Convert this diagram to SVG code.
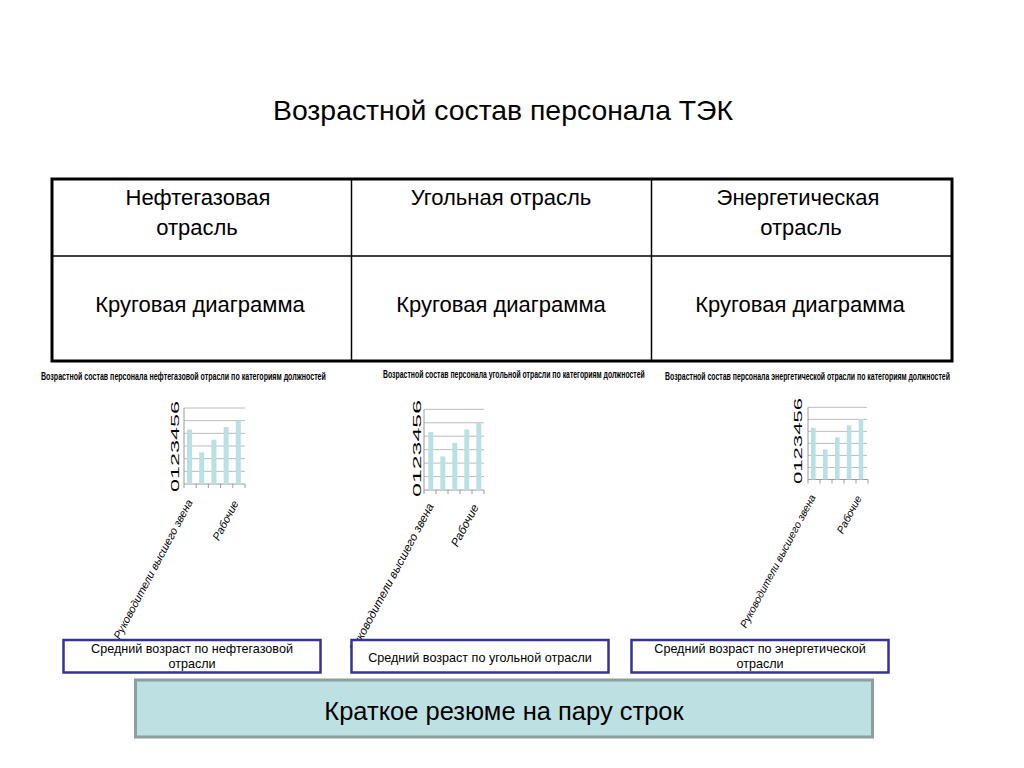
<svg xmlns="http://www.w3.org/2000/svg" width="1024" height="768" viewBox="0 0 1024 768">
<style>
text{font-family:"Liberation Sans",Arial,sans-serif;fill:#000}
.title{font-size:28px}
.cell{font-size:22px;text-anchor:middle}
.ctitle{font-size:10px;font-weight:bold}
.grid{stroke:#bcbcbc;stroke-width:1;fill:none}
.axis{stroke:#9a9a9a;stroke-width:1;fill:none}
.bar{fill:#b9e0e4}
.dig{font-size:11px}
.cat{font-size:11px;font-style:italic;text-anchor:end}
.box{fill:#fff;stroke:#333399;stroke-width:2.5}
.btxt{font-size:12.6px;text-anchor:middle}
.sum{fill:#bde0e3;stroke:#8c9e9e;stroke-width:3}
</style>
<rect width="1024" height="768" fill="#fff"/>
<g id="title"><text class="title" x="503" y="120" text-anchor="middle" textLength="460" lengthAdjust="spacingAndGlyphs">Возрастной состав персонала ТЭК</text></g>

<g id="table">
<rect x="52" y="179" width="900" height="182" fill="#fff" stroke="#000" stroke-width="3"/>
<line x1="52" y1="256" x2="952" y2="256" stroke="#000" stroke-width="1.5"/>
<line x1="351.5" y1="179" x2="351.5" y2="361" stroke="#000" stroke-width="1.5"/>
<line x1="651.5" y1="179" x2="651.5" y2="361" stroke="#000" stroke-width="1.5"/>
<text class="cell" x="198" y="205">Нефтегазовая</text>
<text class="cell" x="197" y="235">отрасль</text>
<text class="cell" x="501" y="205">Угольная отрасль</text>
<text class="cell" x="798" y="205">Энергетическая</text>
<text class="cell" x="801" y="235">отрасль</text>
<text class="cell" x="200" y="312">Круговая диаграмма</text>
<text class="cell" x="501" y="312">Круговая диаграмма</text>
<text class="cell" x="800" y="312">Круговая диаграмма</text>
</g>

<g id="chart1">
<text class="ctitle" transform="translate(41 380) scale(0.7 1)" textLength="407" lengthAdjust="spacingAndGlyphs">Возрастной состав персонала нефтегазовой отрасли по категориям должностей</text>
<path class="grid" d="M184 408H245M184 420.67H245M184 433.33H245M184 446H245M184 458.67H245M184 471.33H245"/>
<path class="axis" d="M184 408V488M184 484H245M196.2 484V488M208.4 484V488M220.6 484V488M232.8 484V488M245 484V488"/>
<rect class="bar" x="187" y="429.53" width="5" height="54.47"/>
<rect class="bar" x="199.2" y="452.33" width="5" height="31.67"/>
<rect class="bar" x="211.4" y="439.67" width="5" height="44.33"/>
<rect class="bar" x="223.6" y="427" width="5" height="57"/>
<rect class="bar" x="235.8" y="420.67" width="5" height="63.33"/>
<text class="dig" transform="translate(178.5 492) rotate(-90)" textLength="91" lengthAdjust="spacingAndGlyphs">0123456</text>
<text class="cat" transform="translate(193 502) rotate(-62)">Руководители  высшего звена</text>
<text class="cat" transform="translate(239 503) rotate(-62)">Рабочие</text>
</g>

<g id="chart2">
<text class="ctitle" transform="translate(383 378) scale(0.7 1)" textLength="374" lengthAdjust="spacingAndGlyphs">Возрастной состав персонала угольной отрасли по категориям должностей</text>
<path class="grid" d="M424 409.3H484M424 422.75H484M424 436.2H484M424 449.65H484M424 463.1H484M424 476.55H484"/>
<path class="axis" d="M424 409.3V494M424 490H484M436 490V494M448 490V494M460 490V494M472 490V494M484 490V494"/>
<rect class="bar" x="428.3" y="432.16" width="5" height="57.84"/>
<rect class="bar" x="440.3" y="456.37" width="5" height="33.63"/>
<rect class="bar" x="452.3" y="442.92" width="5" height="47.08"/>
<rect class="bar" x="464.3" y="429.47" width="5" height="60.53"/>
<rect class="bar" x="476.3" y="422.75" width="5" height="67.25"/>
<text class="dig" transform="translate(421 497) rotate(-90)" textLength="97" lengthAdjust="spacingAndGlyphs">0123456</text>
<text class="cat" style="font-size:11.7px" transform="translate(434 506) rotate(-62)">Руководители  высшего звена</text>
<text class="cat" style="font-size:11.7px" transform="translate(479 507) rotate(-62)">Рабочие</text>
</g>

<g id="chart3">
<text class="ctitle" transform="translate(665 380) scale(0.7 1)" textLength="407" lengthAdjust="spacingAndGlyphs">Возрастной состав персонала энергетической отрасли по категориям должностей</text>
<path class="grid" d="M808 407.3H867M808 419.33H867M808 431.37H867M808 443.4H867M808 455.43H867M808 467.47H867"/>
<path class="axis" d="M808 407.3V483.5M808 479.5H868M820 479.5V483.5M832 479.5V483.5M844 479.5V483.5M856 479.5V483.5M868 479.5V483.5"/>
<rect class="bar" x="811" y="427.76" width="4.6" height="51.74"/>
<rect class="bar" x="823" y="449.42" width="4.6" height="30.08"/>
<rect class="bar" x="835" y="437.38" width="4.6" height="42.12"/>
<rect class="bar" x="846.8" y="425.35" width="4.6" height="54.15"/>
<rect class="bar" x="858.7" y="419.33" width="4.6" height="60.17"/>
<text class="dig" transform="translate(802 484) rotate(-90)" textLength="86" lengthAdjust="spacingAndGlyphs">0123456</text>
<text class="cat" style="font-size:10.5px" transform="translate(816 497) rotate(-62)">Руководители  высшего звена</text>
<text class="cat" style="font-size:10.5px" transform="translate(862 498) rotate(-62)">Рабочие</text>
</g>

<g id="box1">
<rect class="box" x="63.5" y="640" width="257" height="32.5"/>
<text class="btxt" x="192" y="653">Средний возраст по нефтегазовой</text>
<text class="btxt" x="192" y="667.5">отрасли</text>
</g>
<g id="box2">
<rect class="box" x="351.5" y="640" width="257" height="32.5"/>
<text class="btxt" x="480" y="661.5">Средний возраст по угольной отрасли</text>
</g>
<g id="box3">
<rect class="box" x="631.5" y="640" width="257" height="32.5"/>
<text class="btxt" x="760" y="653">Средний возраст по энергетической</text>
<text class="btxt" x="760" y="667.5">отрасли</text>
</g>
<g id="summary">
<rect class="sum" x="135.5" y="680" width="737" height="57"/>
<text x="504" y="720" text-anchor="middle" font-size="25.5">Краткое резюме на пару строк</text>
</g>
</svg>
